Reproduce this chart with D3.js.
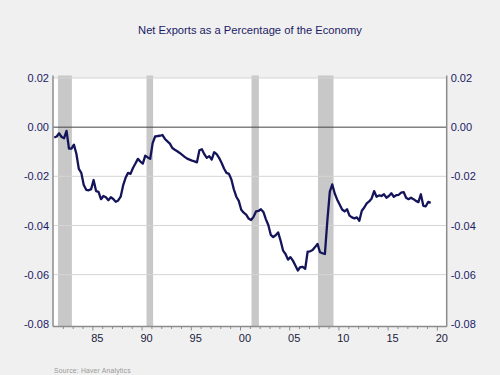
<!DOCTYPE html>
<html>
<head>
<meta charset="utf-8">
<script src="https://cdn.jsdelivr.net/npm/d3@7"></script>
<style>
  html, body { margin: 0; padding: 0; background: #f0f0f0; }
  svg { display: block; }
  text { font-family: "Liberation Sans", Arial, sans-serif; }
</style>
</head>
<body>
<svg id="chart" width="500" height="375"></svg>
<script>
// ---- Data ----
const title = "Net Exports as a Percentage of the Economy";
const source = "Source:  Haver Analytics";
const startYear = 1981; // first quarter = 1981Q1
const netExports = [
  -0.0042, -0.0038, -0.0025, -0.0040,   // 1981
  -0.0045, -0.0015, -0.0087, -0.0087,   // 1982
  -0.0071, -0.0108, -0.0170, -0.0186,   // 1983
  -0.0235, -0.0255, -0.0257, -0.0252,   // 1984
  -0.0215, -0.0260, -0.0263, -0.0293,   // 1985
  -0.0280, -0.0285, -0.0297, -0.0285,   // 1986
  -0.0292, -0.0304, -0.0298, -0.0283,   // 1987
  -0.0237, -0.0206, -0.0186, -0.0190,   // 1988
  -0.0166, -0.0148, -0.0129, -0.0140,   // 1989
  -0.0148, -0.0116, -0.0123, -0.0129,   // 1990
  -0.0065, -0.0038, -0.0036, -0.0035,   // 1991
  -0.0032, -0.0048, -0.0058, -0.0067,   // 1992
  -0.0085, -0.0092, -0.0098, -0.0105,   // 1993
  -0.0113, -0.0121, -0.0128, -0.0132,   // 1994
  -0.0136, -0.0139, -0.0143, -0.0094,   // 1995
  -0.0090, -0.0110, -0.0125, -0.0118,   // 1996
  -0.0132, -0.0102, -0.0110, -0.0125,   // 1997
  -0.0145, -0.0168, -0.0186, -0.0190,   // 1998
  -0.0213, -0.0253, -0.0283, -0.0300,   // 1999
  -0.0336, -0.0348, -0.0356, -0.0372,   // 2000
  -0.0378, -0.0365, -0.0343, -0.0341,   // 2001
  -0.0334, -0.0345, -0.0374, -0.0398,   // 2002
  -0.0438, -0.0447, -0.0440, -0.0428,   // 2003
  -0.0462, -0.0502, -0.0516, -0.0539,   // 2004
  -0.0529, -0.0543, -0.0563, -0.0583,   // 2005
  -0.0569, -0.0568, -0.0576, -0.0506,   // 2006
  -0.0505, -0.0500, -0.0488, -0.0475,   // 2007
  -0.0509, -0.0513, -0.0516, -0.0380,   // 2008
  -0.0262, -0.0233, -0.0270, -0.0295,   // 2009
  -0.0315, -0.0335, -0.0343, -0.0334,   // 2010
  -0.0360, -0.0367, -0.0371, -0.0367,   // 2011
  -0.0381, -0.0340, -0.0327, -0.0310,   // 2012
  -0.0302, -0.0290, -0.0260, -0.0283,   // 2013
  -0.0278, -0.0280, -0.0273, -0.0287,   // 2014
  -0.0280, -0.0269, -0.0283, -0.0277,   // 2015
  -0.0275, -0.0266, -0.0264, -0.0287,   // 2016
  -0.0293, -0.0287, -0.0293, -0.0300,   // 2017
  -0.0305, -0.0273, -0.0320, -0.0322,   // 2018
  -0.0304, -0.0308                      // 2019
];
// Recession periods (decimal years)
const recessions = [
  [1981.50, 1982.92],
  [1990.50, 1991.17],
  [2001.17, 2001.92],
  [2007.92, 2009.50]
];
const yTicks = [0.02, 0.00, -0.02, -0.04, -0.06, -0.08];
const xLabelYears = [1985, 1990, 1995, 2000, 2005, 2010, 2015, 2020];

// ---- Layout ----
const svg = d3.select("#chart");
const pLeft = 53, pRight = 446.7, pTop = 78, pBottom = 326.5;
const navy = "#1b1b66";

const x = d3.scaleLinear().domain([1981, 2021]).range([pLeft, pRight]);
const y = d3.scaleLinear().domain([-0.08, 0.02]).range([323.8, 78]);

svg.append("rect").attr("width", 500).attr("height", 375).attr("fill", "#f0f0f0");

// plot background
svg.append("rect")
  .attr("x", pLeft).attr("y", pTop)
  .attr("width", pRight - pLeft).attr("height", pBottom - pTop)
  .attr("fill", "#ffffff");

// recession bars
svg.append("g").selectAll("rect").data(recessions).join("rect")
  .attr("x", d => x(d[0]))
  .attr("width", d => x(d[1]) - x(d[0]))
  .attr("y", 75.5)
  .attr("height", pBottom - 75.5)
  .attr("fill", "#c8c8c8");

// gridlines
svg.append("g").selectAll("line").data(yTicks.filter(v => v !== 0 && v !== -0.08)).join("line")
  .attr("x1", pLeft).attr("x2", pRight)
  .attr("y1", d => y(d)).attr("y2", d => y(d))
  .attr("stroke", "#d4d4d4").attr("stroke-width", 1);

// zero line
svg.append("line")
  .attr("x1", pLeft).attr("x2", pRight)
  .attr("y1", y(0)).attr("y2", y(0))
  .attr("stroke", "#444").attr("stroke-width", 1);

// data line
const data = netExports.map((v, i) => ({ t: startYear + i / 4 + 0.125, v }));
svg.append("path")
  .datum(data)
  .attr("fill", "none")
  .attr("stroke", "#14145a")
  .attr("stroke-width", 2.3)
  .attr("stroke-linejoin", "round")
  .attr("d", d3.line().x(d => x(d.t)).y(d => y(d.v)));

// y axes (left & right)
const fmt = d => d3.format(".2f")(d).replace("\u2212", "-");
const yAxisL = d3.axisLeft(y).tickValues(yTicks).tickSize(0).tickPadding(4).tickFormat(fmt);
const yAxisR = d3.axisRight(y).tickValues(yTicks).tickSize(0).tickPadding(4).tickFormat(fmt);

const gL = svg.append("g").attr("transform", `translate(${pLeft},0)`).call(yAxisL);
const gR = svg.append("g").attr("transform", `translate(${pRight},0)`).call(yAxisR);
[gL, gR].forEach(g => {
  g.select(".domain").remove();
  g.selectAll("text").attr("fill", navy).style("font-size", "11px");
});

// axis lines
[pLeft, pRight].forEach(xx => {
  svg.append("line")
    .attr("x1", xx).attr("x2", xx).attr("y1", 75.5).attr("y2", pBottom)
    .attr("stroke", "#8c8c8c").attr("stroke-width", 1.5);
});

// x axis
svg.append("line")
  .attr("x1", pLeft).attr("x2", pRight).attr("y1", pBottom).attr("y2", pBottom)
  .attr("stroke", "#8c8c8c").attr("stroke-width", 1.5);

const yearTicks = d3.range(1982, 2021);
const gx = svg.append("g").attr("transform", `translate(0,${pBottom})`)
  .call(d3.axisBottom(x).tickValues(yearTicks)
    .tickSize(3).tickFormat(""));
gx.select(".domain").remove();
gx.selectAll(".tick line").attr("stroke", "#8c8c8c")
  .attr("y2", d => d % 5 === 0 ? 4 : 2.5);

// x labels centered mid-year
svg.append("g").selectAll("text").data(xLabelYears).join("text")
  .attr("x", d => x(d + 0.5))
  .attr("y", 342)
  .attr("text-anchor", "middle")
  .attr("fill", "#1a1a3a")
  .style("font-size", "11px")
  .text(d => d3.format("02d")(d % 100));

// title
svg.append("text")
  .attr("x", 250).attr("y", 34)
  .attr("text-anchor", "middle")
  .attr("fill", navy)
  .style("font-size", "11.2px")
  .text(title);

// source
svg.append("text")
  .attr("x", 54).attr("y", 373)
  .attr("fill", "#999999")
  .style("font-size", "6.8px")
  .style("letter-spacing", "0.2px")
  .text(source);
</script>
</body>
</html>
